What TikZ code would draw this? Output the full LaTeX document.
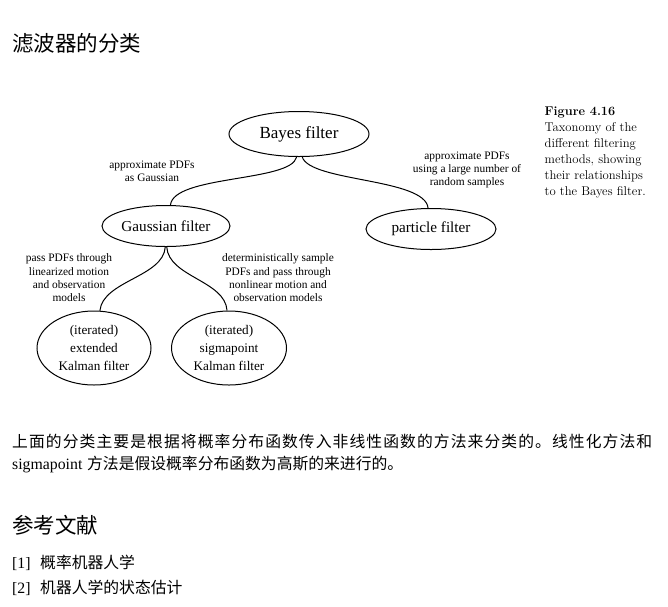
\documentclass[tikz,border=0pt]{standalone}
\usepackage{fontspec}
\usetikzlibrary{shapes.geometric}
\newfontfamily\tms{Liberation Serif}
\newfontfamily\cjk{Noto Sans CJK SC}
% spread a run of characters evenly over a fixed width
\def\sprd#1#2{#1\ifx#2\relax\else\hfil\expandafter\sprd\expandafter#2\fi}
\tikzset{
  oval/.style={draw, ellipse, line width=1pt, inner sep=0pt, align=center},
  edgelabel/.style={inner sep=0pt, align=center, font=\tms\fontsize{11.4}{13.3}\selectfont},
  link/.style={line width=1pt},
  txt/.style={inner sep=0pt, anchor=base west},
  caption/.style={txt, font=\fontsize{12.7}{16}\selectfont}
}
\begin{document}
\begin{tikzpicture}[x=1pt,y=-1pt]
\useasboundingbox[fill=white] (0,0) rectangle (668,606);

% headings
\node[txt, font=\cjk\fontsize{21.5}{24}\selectfont] (title) at (12,51) {滤波器的分类};
\node[txt, font=\cjk\fontsize{21.5}{24}\selectfont] (refs) at (12,533.5) {参考文献};

% taxonomy tree
\node[oval, minimum width=140pt, minimum height=45pt, font=\tms\fontsize{17}{20}\selectfont] (bayes) at (299,134) {Bayes filter};
\node[oval, minimum width=128pt, minimum height=41pt, font=\tms\fontsize{15.2}{18}\selectfont] (gauss) at (166,226) {Gaussian filter};
\node[oval, minimum width=130pt, minimum height=41pt, font=\tms\fontsize{15.2}{18}\selectfont] (particle) at (431,229) {particle filter};
\node[oval, minimum width=114pt, minimum height=74pt, font=\tms\fontsize{13.2}{18}\selectfont] (ekf) at (94,348) {(iterated)\\extended\\Kalman filter};
\node[oval, minimum width=115pt, minimum height=74pt, font=\tms\fontsize{13.2}{18}\selectfont] (skf) at (229,348) {(iterated)\\sigmapoint\\Kalman filter};

\draw[link] (bayes.-96) .. controls +(-5,25) and +(3,-30) .. (gauss.78);
\draw[link] (bayes.-82) .. controls +(8,25) and +(-3,-30) .. (particle.98);
\draw[link] (gauss.-92) .. controls +(-2,30) and +(3,-30) .. (ekf.81);
\draw[link] (gauss.-88) .. controls +(2,30) and +(-2,-30) .. (skf.93);

\node[edgelabel] (lgauss) at (152,171.5) {approximate PDFs\\as Gaussian};
\node[edgelabel] (lpart) at (467,170) {approximate PDFs\\using a large number of\\random samples};
\node[edgelabel] (lekf) at (69,278) {pass PDFs through\\linearized motion\\and observation\\models};
\node[edgelabel] (lskf) at (278,278) {deterministically sample\\PDFs and pass through\\nonlinear motion and\\observation models};

% figure caption
\node[caption, font=\bfseries\fontsize{12.7}{16}\selectfont] (cap1) at (544.5,115) {Figure 4.16};
\node[caption] (cap2) at (544.5,131) {Taxonomy of the};
\node[caption] (cap3) at (544.5,147) {different filtering};
\node[caption] (cap4) at (544.5,163) {methods, showing};
\node[caption] (cap5) at (544.5,179) {their relationships};
\node[caption] (cap6) at (544.5,195) {to the Bayes filter.};

% body text
\node[txt, font=\cjk\fontsize{15.8}{18}\selectfont] (para1) at (12,447.5)
  {\hbox to 640pt{\sprd 上面的分类主要是根据将概率分布函数传入非线性函数的方法来分类的。线性化方法和\relax}};
\node[txt, font=\fontsize{15.8}{18}\selectfont] (para2) at (12,469)
  {{\tms sigmapoint} {\cjk 方法是假设概率分布函数为高斯的来进行的。}};

% references
\node[txt, font=\tms\fontsize{15.8}{18}\selectfont] (r1n) at (12,568) {[1]};
\node[txt, font=\cjk\fontsize{15.8}{18}\selectfont] (r1) at (40,568) {概率机器人学};
\node[txt, font=\tms\fontsize{15.8}{18}\selectfont] (r2n) at (12,593) {[2]};
\node[txt, font=\cjk\fontsize{15.8}{18}\selectfont] (r2) at (40,593) {机器人学的状态估计};
\end{tikzpicture}
\end{document}
